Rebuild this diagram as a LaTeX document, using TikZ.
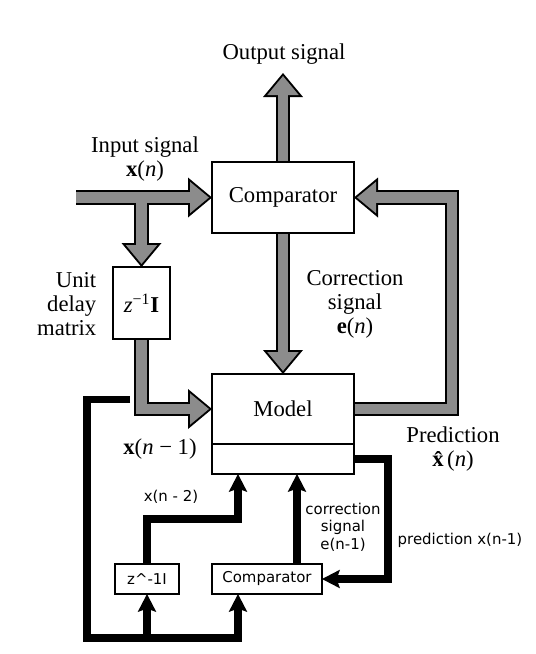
\documentclass[tikz,border=0pt]{standalone}
\usepackage{fontspec}
\setmainfont{Liberation Serif}
\newfontfamily\dvsans{DejaVu Sans}
\usetikzlibrary{arrows.meta,positioning,calc,backgrounds}
\definecolor{fatgray}{gray}{0.55}

\begin{document}
\begin{tikzpicture}[x=0.75pt,y=-0.75pt,
    every node/.style={font=\fontsize{17}{18}\selectfont},
    box/.style={draw,line width=1pt,fill=white,inner sep=0pt,outer sep=0pt},
    sbox/.style={draw,line width=0.8pt,fill=white,inner sep=0pt,outer sep=0pt,
        minimum height=22.5pt,font=\dvsans\fontsize{11.2}{13}\selectfont},
    slab/.style={font=\dvsans\fontsize{11.2}{13}\selectfont,align=center},
    fatout/.style={line width=11pt,line join=miter,
        -{Triangle[length=18pt,width=30pt,line width=0pt]}},
    fatin/.style={line width=8pt,line join=miter,draw=fatgray,shorten >=2.3pt,
        -{Triangle[length=14.2pt,width=23.6pt,line width=0pt]}},
    blk/.style={line width=5.5pt,line join=miter,
        -{Stealth[length=13.5pt,width=14pt,inset=2.5pt,line width=0pt]}}]
  \useasboundingbox (0,0) rectangle (536,654);

  %% Upper system (fat arrows)
  \node[box,minimum width=106.5pt,minimum height=53.25pt] (cmp) at (283,197.5) {Comparator};
  \node[box,minimum width=106.5pt,minimum height=52.5pt] (mdl) at (283,409) {Model};
  \node[box,minimum width=106.5pt,minimum height=22.5pt,below=0pt of mdl] (mdlx) {};
  \node[box,minimum width=42.75pt,minimum height=54pt] (zd) at (141.5,303)
        {\textit{z}\textsuperscript{−1}\textbf{I}};

  \coordinate (otip) at ($(cmp.north)+(0,-89)$);
  \coordinate (in) at (76,197.5);
  \coordinate (br) at (zd |- in);

  \begin{pgfonlayer}{background}
    \foreach \sty in {fatout,fatin} {
      \draw[\sty] (cmp.north) -- (otip);
      \draw[\sty] (in) -- (cmp.west);
      \draw[\sty] (br) -- (zd.north);
      \draw[\sty] (zd.south) |- (mdl.west);
      \draw[\sty] (cmp.south) -- (mdl.north);
      \draw[\sty] (mdl.east) -- ++(98,0) |- (cmp.east);
    }
  \end{pgfonlayer}

  \node (lout) at (284,54) {Output signal};
  \node[align=center] (lin) at (145,159) {Input signal\\\textbf{x}(\textit{n})};
  \node[align=right,anchor=east] (lud) at (101,304) {Unit\\delay\\matrix};
  \node[align=center] (lcor) at (355,304) {Correction\\signal\\\textbf{e}(\textit{n})};
  \node[align=center] (lpred) at (453,449) {Prediction\\\textbf{\^{x}}(\textit{n})};
  \node (lx1) at (160,449) {\textbf{x}(\textit{n} − 1)};

  %% Lower system (black arrows)
  \node[sbox,minimum width=48pt] (sz) at (147,579) {z\textasciicircum-1I};
  \node[sbox,minimum width=82.5pt] (scmp) at (267,579) {Comparator};

  \coordinate (tap) at (130,399.5);
  \coordinate (lc) at ($(sz.south)+(-60,44)$);
  \coordinate (s2) at ($(scmp.south west)+(26,0)$);
  \coordinate (m2) at ($(mdlx.south west)+(26,0)$);
  \coordinate (e1) at ($(scmp.north west)+(85,0)$);

  \draw[blk] (tap) -| (lc) -| (s2);
  \draw[blk] (sz.south |- lc) -- (sz.south);
  \draw[blk] (sz.north) -- ++(0,-45) -| (m2);
  \draw[blk] (e1) -- (e1 |- mdlx.south);
  \draw[blk] (mdlx.east) -- ++(34,0) |- (scmp.east);

  \node[slab] (lx2) at (171,497) {x(n - 2)};
  \node[slab] (lcor2) at (343,527) {correction\\signal\\e(n-1)};
  \node[slab,anchor=west] (lpred2) at (393,540) {prediction x(n-1)};
\end{tikzpicture}
\end{document}
